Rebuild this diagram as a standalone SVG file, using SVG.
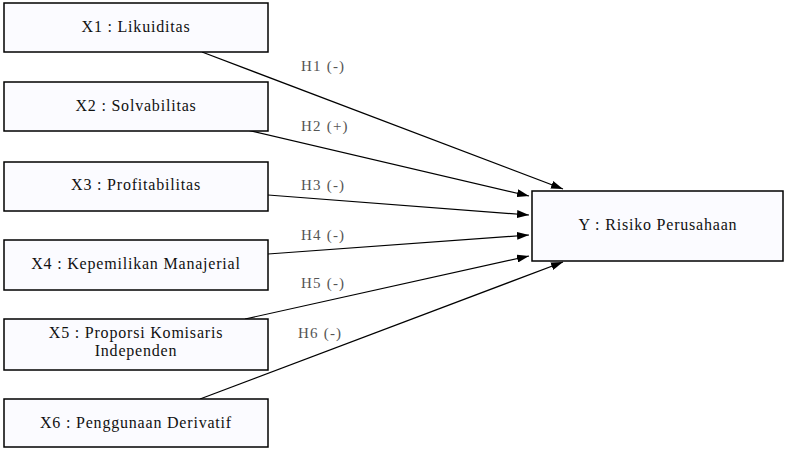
<svg xmlns="http://www.w3.org/2000/svg" width="785" height="449" viewBox="0 0 785 449">
<style>
.box{fill:#fbfbff;stroke:#000;stroke-width:1.5}
.t{font-family:"Liberation Serif","Times New Roman",serif;font-size:16px;letter-spacing:0.8px;fill:#111;text-anchor:middle}
.h{font-family:"Liberation Serif","Times New Roman",serif;font-size:15px;letter-spacing:1.2px;fill:#555}
.c{stroke:#000;stroke-width:1.2;fill:none;marker-end:url(#ah)}
</style>
<defs>
<marker id="ah" viewBox="0 0 12 8" refX="12" refY="4" markerWidth="12" markerHeight="8" markerUnits="userSpaceOnUse" orient="auto">
<path d="M0,0 L12,4 L0,8 z" fill="#000"/>
</marker>
</defs>
<rect width="785" height="449" fill="#fff"/>
<g id="connectors">
<line class="c" x1="202" y1="52" x2="563" y2="189"/>
<line class="c" x1="247" y1="130" x2="529" y2="196"/>
<line class="c" x1="268" y1="195" x2="529" y2="215"/>
<line class="c" x1="268" y1="254" x2="529" y2="235"/>
<line class="c" x1="245" y1="319" x2="529" y2="256"/>
<line class="c" x1="200" y1="399" x2="563" y2="262"/>
<text class="h" x="301" y="71">H1 (-)</text>
<text class="h" x="301" y="131">H2 (+)</text>
<text class="h" x="301" y="190">H3 (-)</text>
<text class="h" x="301" y="240">H4 (-)</text>
<text class="h" x="301" y="288">H5 (-)</text>
<text class="h" x="298" y="338">H6 (-)</text>
</g>
<g id="x1"><rect class="box" x="4" y="3" width="264" height="49"/><text class="t" x="136" y="32">X1 : Likuiditas</text></g>
<g id="x2"><rect class="box" x="4" y="82" width="264" height="49"/><text class="t" x="136" y="111">X2 : Solvabilitas</text></g>
<g id="x3"><rect class="box" x="4" y="162" width="264" height="49"/><text class="t" x="136" y="190">X3 : Profitabilitas</text></g>
<g id="x4"><rect class="box" x="4" y="240" width="264" height="50"/><text class="t" x="136" y="269">X4 : Kepemilikan Manajerial</text></g>
<g id="x5"><rect class="box" x="4" y="319" width="264" height="51"/><text class="t" x="136" y="338">X5 : Proporsi Komisaris</text><text class="t" x="136" y="356">Independen</text></g>
<g id="x6"><rect class="box" x="4" y="399" width="264" height="48"/><text class="t" x="136" y="428">X6 : Penggunaan Derivatif</text></g>
<g id="y"><rect class="box" x="532" y="191" width="251" height="70"/><text class="t" x="658" y="230">Y : Risiko Perusahaan</text></g>
</svg>
